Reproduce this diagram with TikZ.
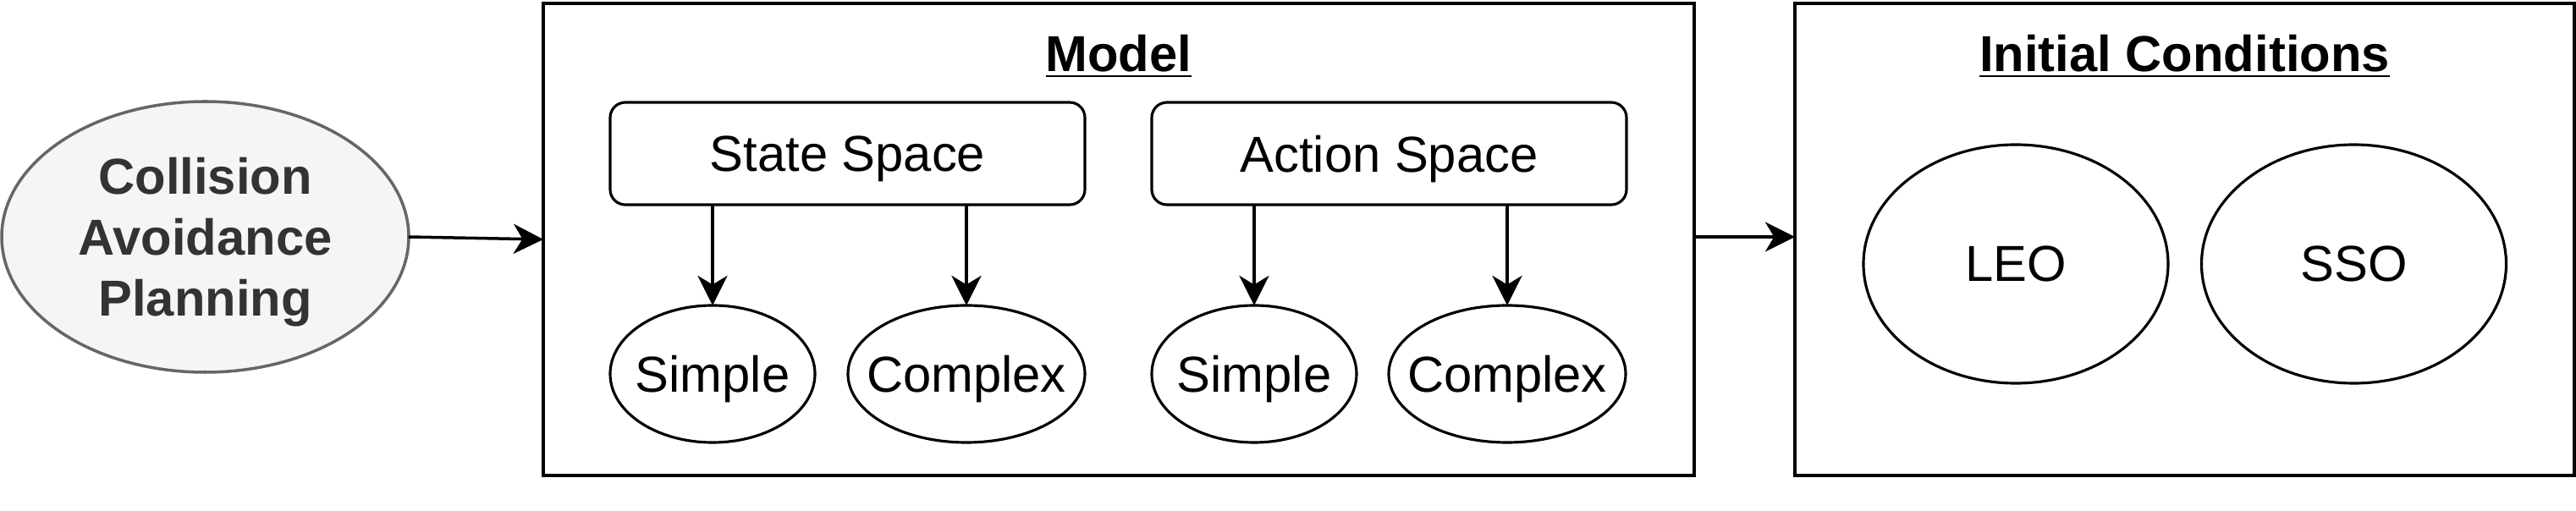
\documentclass[tikz,border=0pt]{standalone}
\usepackage{fontspec}
\setmainfont{Liberation Sans}
\usetikzlibrary{shapes.geometric, positioning, arrows.meta}

\definecolor{startfill}{HTML}{F5F5F5}
\definecolor{startline}{HTML}{666666}
\definecolor{starttext}{HTML}{333333}

\begin{document}
\begin{tikzpicture}[
    >={Stealth[length=10pt, width=10pt, inset=3pt]},
    font=\fontsize{17}{20.5}\selectfont,
    every node/.style={text depth=0pt},
    container/.style={
        draw, rectangle, line width=1.1pt, minimum height=5.58cm,
        inner sep=0pt, outer sep=0pt
    },
    title/.style={font=\fontsize{17}{20.5}\selectfont\bfseries},
    space/.style={
        draw, rectangle, rounded corners=0.18cm, line width=0.9pt,
        minimum width=5.61cm, minimum height=1.21cm, inner sep=0pt, outer sep=0pt
    },
    leaf/.style={
        draw, ellipse, line width=0.9pt, minimum height=1.62cm,
        inner xsep=-0.25cm, inner ysep=0pt, outer sep=0pt
    },
    orbit/.style={
        draw, ellipse, line width=0.9pt, minimum width=3.6cm,
        minimum height=2.82cm, inner sep=0pt, outer sep=0pt
    },
    start/.style={
        draw=startline, fill=startfill, text=starttext, ellipse,
        line width=1pt, minimum width=4.81cm, minimum height=3.2cm,
        inner sep=0pt, outer sep=0pt, align=center,
        font=\fontsize{17}{20.5}\selectfont\bfseries
    },
    link/.style={->, line width=1pt}
]

\useasboundingbox (0,0) rectangle (30.44,-6.04);

% -------------------------
% Input
% -------------------------
\node[start] (Planning) at (2.425, -2.80) {Collision\\Avoidance\\Planning};

% -------------------------
% Model
% -------------------------
\node[container, minimum width=13.6cm] (Model) at (13.22, -2.83) {};
\node[title] (ModelTitle) at (13.22, -0.63) {\underline{Model}};

\node[space] (State) at (10.015, -1.815) {State Space};
\node[space] (Action) at (16.415, -1.815) {Action Space};

\node[leaf, minimum width=2.42cm] (StateSimple) at (8.42, -4.42) {Simple};
\node[leaf, minimum width=2.80cm] (StateComplex) at (11.42, -4.42) {Complex};
\node[leaf, minimum width=2.42cm] (ActionSimple) at (14.82, -4.42) {Simple};
\node[leaf, minimum width=2.80cm] (ActionComplex) at (17.81, -4.42) {Complex};

% -------------------------
% Initial Conditions
% -------------------------
\node[container, minimum width=9.21cm] (Init) at (25.815, -2.83) {};
\node[title] (InitTitle) at (25.815, -0.63) {\underline{Initial Conditions}};

\node[orbit] (LEO) at (23.82, -3.12) {LEO};
\node[orbit] (SSO) at (27.815, -3.12) {SSO};

% -------------------------
% Connections
% -------------------------
\draw[link] (Planning.east) -- (Model.west);
\draw[link] (Model.east |- Planning.east) -- (Init.west |- Planning.east);

\draw[link] (State.south -| StateSimple.north) -- (StateSimple.north);
\draw[link] (State.south -| StateComplex.north) -- (StateComplex.north);
\draw[link] (Action.south -| ActionSimple.north) -- (ActionSimple.north);
\draw[link] (Action.south -| ActionComplex.north) -- (ActionComplex.north);

\end{tikzpicture}
\end{document}
